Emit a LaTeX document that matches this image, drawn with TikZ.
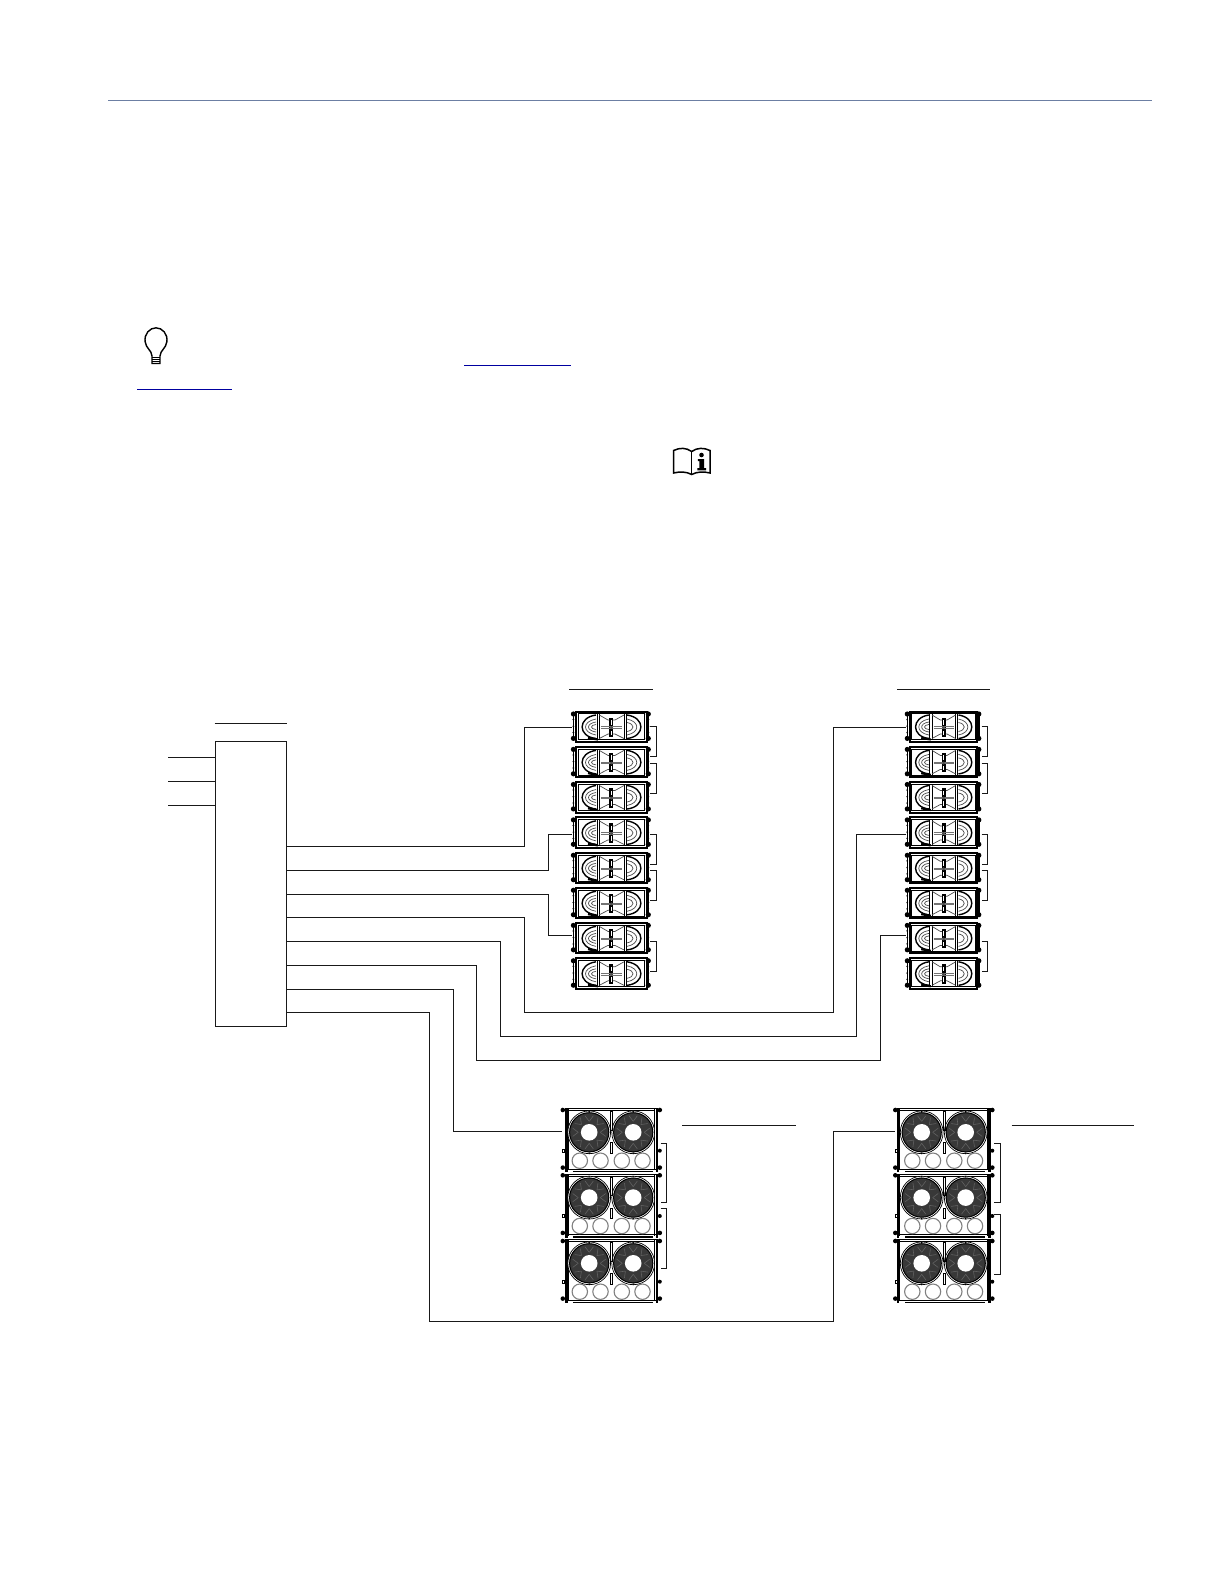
\documentclass[tikz,border=0pt]{standalone}
\usetikzlibrary{calc}
\definecolor{rulecol}{HTML}{6C7FA3}
\definecolor{linkcol}{HTML}{0000A0}
\tikzset{
  x=0.5pt,y=-0.5pt,
  wire/.style={line width=0.65pt,draw=black!90},
  labelrule/.style={line width=0.65pt,draw=black!90},
  blockbox/.style={draw=black!90,line width=0.75pt,inner sep=0pt,outer sep=0pt,anchor=north west},
  cabspot/.style={inner sep=0pt,outer sep=0pt,anchor=north west},
  cabframe/.style={line width=1pt,draw=black},
  cabthin/.style={line width=0.3pt,draw=black},
  cabmid/.style={line width=0.5pt,draw=black},
  linkrule/.style={line width=0.7pt,draw=linkcol},
  hornline/.style={line width=0.35pt,draw=black!70},
}
% name, x, y, xscale
\newcommand{\smallcab}[4]{
  \node[cabspot,minimum width={#4*39.6pt},minimum height=15.5pt] (#1) at ($(#2,#3)+(-4.3*#4,0)$) {};
  \begin{scope}[shift={(#2,#3)},xscale=#4]
    \foreach \hx in {-2.6,72.3}{
      \fill[black] (\hx,2.5) circle[radius=2.6];
      \fill[black] (\hx,26.9) circle[radius=2.6];
      \fill[black] (\hx,8) circle[radius=1];
      \fill[black] (\hx,14.7) circle[radius=1];
      \fill[black] (\hx,21) circle[radius=1];
      \draw[line width=0.7pt,draw=black] (\hx,2.5) -- (\hx,26.9);
    }
    \draw[cabframe] (0,0) rectangle (70.7,30.5);
    \draw[cabmid] (2.2,2.2) rectangle (68.5,28.3);
    % left horn
    \draw[line width=0.7pt,draw=black] (20,3.5) .. controls (1.5,6) and (1.5,25) .. (20,27);
    \draw[hornline] (20,7.5) .. controls (6,10) and (6,21) .. (20,23.5);
    \draw[hornline] (20,10.5) .. controls (10,12) and (10,19) .. (20,20.5);
    \draw[hornline] (20,13) .. controls (14,13.5) and (14,17.5) .. (20,18);
    \draw[cabmid] (21,2.2) -- (21,28.3) (23.3,2.2) -- (23.3,28.3);
    \draw[line width=1.1pt,draw=black] (12,26.3) -- (22,28);
    % centre
    \draw[cabmid] (48,2.2) -- (48,28.3) (50,2.2) -- (50,28.3);
    \draw[hornline] (23.3,3.5) -- (32,8.5) -- (39,8.5) -- (48,3.5);
    \draw[hornline] (23.3,27) -- (32,22.5) -- (39,22.5) -- (48,27);
    \fill[black] (33.4,6) rectangle (37.4,25.5);
    \fill[white] (34.7,8.5) rectangle (36.1,13);
    \fill[white] (34.7,19) rectangle (36.1,23.5);
    \draw[line width=0.45pt,draw=black!55] (25,15.3) -- (46,15.3) (25,16.9) -- (46,16.9);
    \fill[black!70] (35.4,16.1) circle[radius=1.6];
    % right horn
    \draw[line width=0.7pt,draw=black] (51,3.5) .. controls (69.5,6) and (69.5,25) .. (51,27);
    \draw[hornline] (51,7.5) .. controls (64,10) and (64,21) .. (51,23.5);
    \draw[hornline] (51,11) .. controls (59,12.5) and (59,18.5) .. (51,20);
  \end{scope}
}
% one woofer, x, y
\newcommand{\woofer}[2]{
  \draw[line width=0.35pt,draw=black,fill=white] (#1,#2) circle[radius=21.4];
  \fill[black!78] (#1,#2) circle[radius=19.8];
  \draw[line width=0.5pt,draw=black] (#1,#2) circle[radius=19.6];
  \foreach \wa in {0,45,...,315}{
    \draw[line width=0.3pt,draw=black!62] ($(#1,#2)+(\wa:11)$) -- ($(#1,#2)+(\wa+14:17)$);
    \draw[line width=0.3pt,draw=black!62] ($(#1,#2)+(\wa:11)$) -- ($(#1,#2)+(\wa-14:17)$);
  }
  \fill[white] (#1,#2) circle[radius=8.3];
  \fill[black] ($(#1,#2)+(0,-21)$) circle[radius=0.9];
  \fill[black] ($(#1,#2)+(0,21)$) circle[radius=0.9];
}
% name, x, y, left bar width
\newcommand{\largecab}[4]{
  \node[cabspot,minimum width=49.5pt,minimum height=32pt] (#1) at ($(#2,#3)+(-2.5,0)$) {};
  \begin{scope}[shift={(#2,#3)}]
    \foreach \hy in {1.7,59.3}{
      \fill[black] (-2,\hy) circle[radius=2.3];
      \fill[black] (95,\hy) circle[radius=2.3];
    }
    \fill[black] (95,42.4) circle[radius=2];
    \draw[line width=0.35pt,draw=black,fill=white] (-2.4,40.9) rectangle (-0.3,44);
    \draw[cabmid] (0,0.5) -- (93.4,0.5) (3,2.6) -- (90.4,2.6);
    \fill[black] (0,0) rectangle (#4,64);
    \fill[black] (91,0) rectangle (93.6,64);
    \draw[cabmid] (#4+1,1) -- (#4+1,62);
    \draw[cabmid] (90,1) -- (90,62);
    \draw[cabmid] (1,60.8) -- (92,60.8);
    \draw[line width=0.9pt,draw=black] (8,63.2) -- (88,63.2);
    \woofer{24.4}{24}
    \woofer{68.4}{24}
    \draw[cabmid] (45.7,3.4) rectangle (47.7,21.7);
    \draw[cabmid] (45.7,34.4) rectangle (47.7,45);
    \foreach \cx in {15,35.7,57,77.7}{
      \draw[line width=0.55pt,draw=black!50] (\cx,52.4) circle[radius=7.7];
    }
  \end{scope}
}
\begin{document}
\begin{tikzpicture}
\useasboundingbox (0,0) rectangle (1224,1584);
\fill[white] (0,0) rectangle (1224,1584);

% page rule and link rules
\draw[line width=0.6pt,draw=rulecol] (108,100.5) -- (1152,100.5);
\draw[linkrule] (137.3,389.3) -- (231.7,389.3);
\draw[linkrule] (464,365.3) -- (571,365.3);

% bulb icon
\begin{scope}[line width=0.7pt,draw=black]
\draw (152,363.5) -- (152,356) .. controls (151.6,350) and (146,348.5) .. (145.2,342)
  .. controls (143.8,334) and (149.8,327.8) .. (156,327.8)
  .. controls (162.2,327.8) and (168.2,334) .. (166.8,342)
  .. controls (166,348.5) and (160.4,350) .. (160,356) -- (160,363.5) -- cycle;
\draw (152,357.5) -- (160,357.5) (152,359.5) -- (160,359.5) (152,361.5) -- (160,361.5);
\end{scope}

% book icon
\draw[line width=0.75pt,draw=black] (691.7,474.5) .. controls (686,471.5) and (680,471.5) .. (673.5,473)
  -- (673.5,450.5) .. controls (680,447.5) and (686,447.5) .. (691.7,451.5)
  .. controls (697,447.5) and (704,447.5) .. (710,450.5) -- (710,473)
  .. controls (704,471.5) and (697,471.5) .. (691.7,474.5) -- cycle;
\draw[line width=0.75pt,draw=black] (691.7,451.5) -- (691.7,474.5);
\fill[black] (701.5,455) circle[radius=2.3];
\fill[black] (697.8,459) -- (704.2,459) -- (704.2,468) -- (706,468) -- (706,470.3) -- (697.3,470.3) -- (697.3,468) -- (699.3,468) -- (699.3,461) -- (697.8,461) -- cycle;

% label rules
\coordinate (ruleAa) at (214.5,723.3); \coordinate (ruleAb) at (287,723.3);
\coordinate (ruleBa) at (569,689.3);   \coordinate (ruleBb) at (653.3,689.3);
\coordinate (ruleCa) at (897.3,689.3); \coordinate (ruleCb) at (990,689.3);
\coordinate (ruleDa) at (682,1125.3);  \coordinate (ruleDb) at (796,1125.3);
\coordinate (ruleEa) at (1011.7,1125.3); \coordinate (ruleEb) at (1133.7,1125.3);
\draw[labelrule] (ruleAa) -- (ruleAb);
\draw[labelrule] (ruleBa) -- (ruleBb);
\draw[labelrule] (ruleCa) -- (ruleCb);
\draw[labelrule] (ruleDa) -- (ruleDb);
\draw[labelrule] (ruleEa) -- (ruleEb);

% rack
\node[blockbox,minimum width=35.7pt,minimum height=142.5pt] (rack) at (215.3,741.3) {};

% cabinets
\foreach \i/\cy in {1/711.5,2/746.9,3/782,4/817.4,5/852.8,6/887.8,7/922.9,8/958.3}{
  \smallcab{L\i}{576}{\cy}{1}
  \smallcab{R\i}{909.7}{\cy}{0.957}
}
\largecab{SL1}{564.8}{1108.3}{3}
\largecab{SL2}{564.8}{1173.6}{3}
\largecab{SL3}{564.8}{1239.3}{3}
\largecab{SR1}{897.3}{1108.3}{1.4}
\largecab{SR2}{897.3}{1173.6}{1.4}
\largecab{SR3}{897.3}{1239.3}{1.4}

% inputs
\foreach \n/\y in {1/757.3,2/781.3,3/805.3}{
  \coordinate (in\n) at (168,\y);
  \draw[wire] (in\n) -- (rack.west |- in\n);
}

% outputs
\foreach \n/\y in {1/846.3,2/870.3,3/894.3,4/917.3,5/941.3,6/965.3,7/989.3,8/1012.3}{
  \coordinate (o\n) at (rack.east |- 0,\y);
}
\coordinate (r1) at (524.7,727.3);
\coordinate (r2) at (548.3,834.3);
\coordinate (r3) at (548.3,935.3);
\coordinate (a4) at (524.7,1012.3); \coordinate (b4) at (833.3,727.3);
\coordinate (a5) at (500.5,1036.3); \coordinate (b5) at (856.3,834.3);
\coordinate (a6) at (476.3,1060.3); \coordinate (b6) at (880.7,935.3);
\coordinate (a7) at (453.5,1131.3);
\coordinate (a8) at (429.3,1321.3); \coordinate (b8) at (833.7,1131.3);

\draw[wire] (o1) -| (r1) -- (L1.west |- r1);
\draw[wire] (o2) -| (r2) -- (L4.west |- r2);
\draw[wire] (o3) -| (r3) -- (L7.west |- r3);
\draw[wire] (o4) -| (a4) -| (b4) -- (R1.west |- b4);
\draw[wire] (o5) -| (a5) -| (b5) -- (R4.west |- b5);
\draw[wire] (o6) -| (a6) -| (b6) -- (R7.west |- b6);
\draw[wire] (o7) -| (a7) -- (SL1.west |- a7);
\draw[wire] (o8) -| (a8) -| (b8) -- (SR1.west |- b8);

% links between cabinets
\foreach \sx/\ya/\yb in {650/726.7/756.3, 650/763.3/793.3, 650/834.3/864.3, 650/870.7/900.3, 650/941.3/971.3,
                         981.5/726.7/756.7, 981.5/763.3/793.3, 981.5/834.3/864.3, 981.5/870.7/900.3, 981.5/941.3/971.3}{
  \draw[wire,line width=0.5pt] (\sx,\ya) -- ++(6,0) |- (\sx,\yb);
}
\draw[wire,line width=0.5pt] (660.7,1143.3) -- (666.7,1143.3) |- (660.7,1202.3);
\draw[wire,line width=0.5pt] (660.7,1208.5) -- (666.7,1208.5) |- (660.7,1268.3);
\draw[wire,line width=0.5pt] (994,1143.3) -- (1000,1143.3) |- (994,1202.3);
\draw[wire,line width=0.5pt] (994,1214.3) -- (1000,1214.3) |- (994,1274.3);
\end{tikzpicture}
\end{document}
